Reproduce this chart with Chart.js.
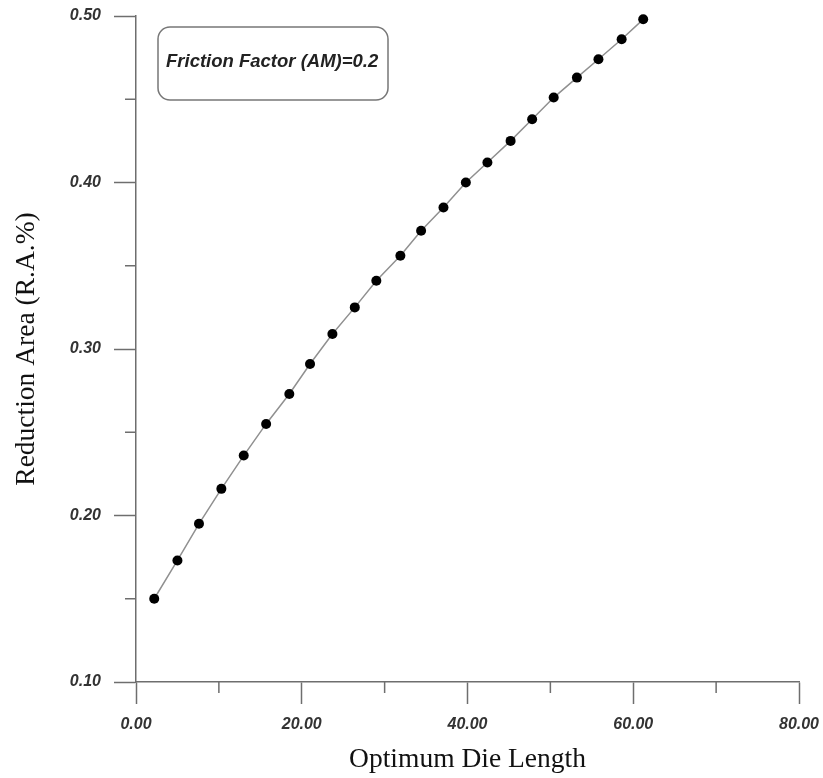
<!DOCTYPE html>
<html>
<head>
<meta charset="utf-8">
<script src="https://cdn.jsdelivr.net/npm/chart.js@4.4.1/dist/chart.umd.min.js"></script>
<style>
  html, body { margin: 0; padding: 0; background: #fff; }
  #wrap { width: 823px; height: 778px; }
</style>
</head>
<body>
<div id="wrap"><canvas id="chart" width="823" height="778"></canvas></div>
<script>
const dieLength = [2.2, 5.0, 7.6, 10.3, 13.0, 15.7, 18.5, 21.0, 23.7, 26.4, 29.0, 31.9, 34.4, 37.1, 39.8, 42.4, 45.2, 47.8, 50.4, 53.2, 55.8, 58.6, 61.2]
const reductionArea = [0.150, 0.173, 0.195, 0.216, 0.236, 0.255, 0.273, 0.291, 0.309, 0.325, 0.341, 0.356, 0.371, 0.385, 0.400, 0.412, 0.425, 0.438, 0.451, 0.463, 0.474, 0.486, 0.498]
const xTicks = [0, 20, 40, 60, 80]
const yTicks = [0.1, 0.2, 0.3, 0.4, 0.5]
const xMinor = [10, 30, 50, 70]
const yMinor = [0.15, 0.25, 0.35, 0.45]
const noteText = "Friction Factor (AM)=0.2"

const axisColor = "#6e6e6e"
const tickFont = { family: "'Liberation Sans', Arial, sans-serif", size: 16, style: "italic", weight: "bold" }
const titleFont = { family: "'Liberation Serif', 'Times New Roman', serif", size: 27.5 }

// short minor ticks + the friction factor note
const extras = {
  id: "extras",
  afterDraw(chart) {
    const { ctx, chartArea, scales: { x, y } } = chart
    ctx.save()
    ctx.strokeStyle = axisColor
    ctx.lineWidth = 1.5
    ctx.beginPath()
    xMinor.forEach((v) => {
      const px = x.getPixelForValue(v)
      ctx.moveTo(px, chartArea.bottom)
      ctx.lineTo(px, chartArea.bottom + 11)
    })
    yMinor.forEach((v) => {
      const py = y.getPixelForValue(v)
      ctx.moveTo(chartArea.left, py)
      ctx.lineTo(chartArea.left - 11, py)
    })
    ctx.stroke()

    const bx = chartArea.left + 22, by = chartArea.top + 11, bw = 230, bh = 73, r = 12
    ctx.beginPath()
    ctx.moveTo(bx + r, by)
    ctx.arcTo(bx + bw, by, bx + bw, by + bh, r)
    ctx.arcTo(bx + bw, by + bh, bx, by + bh, r)
    ctx.arcTo(bx, by + bh, bx, by, r)
    ctx.arcTo(bx, by, bx + bw, by, r)
    ctx.closePath()
    ctx.strokeStyle = "#777"
    ctx.stroke()

    ctx.fillStyle = "#222"
    ctx.font = "italic bold 18.5px 'Liberation Sans', Arial, sans-serif"
    ctx.textBaseline = "middle"
    ctx.fillText(noteText, bx + 8, by + 35)
    ctx.restore()
  }
}

new Chart(document.getElementById("chart"), {
  type: "line",
  data: {
    datasets: [{
      data: dieLength.map((v, i) => ({ x: v, y: reductionArea[i] })),
      borderColor: "#909090",
      borderWidth: 1.5,
      pointRadius: 5,
      pointBackgroundColor: "#000",
      pointBorderWidth: 0,
      tension: 0,
      clip: false
    }]
  },
  options: {
    responsive: false,
    animation: false,
    layout: { padding: { top: 16, right: 24, left: 0, bottom: 0 } },
    plugins: { legend: { display: false }, tooltip: { enabled: false } },
    scales: {
      x: {
        type: "linear",
        min: 0,
        max: 80,
        afterBuildTicks: (s) => { s.ticks = xTicks.map((v) => ({ value: v })) },
        afterFit: (s) => { s.height = 96; s.paddingLeft = 0; s.paddingRight = 0 },
        grid: { drawOnChartArea: false, tickLength: 22, tickColor: axisColor, tickWidth: 1.5 },
        border: { color: axisColor, width: 1.5 },
        ticks: { color: "#333", font: tickFont, padding: 11, maxRotation: 0, callback: (v) => v.toFixed(2) },
        title: { display: true, text: "Optimum Die Length", color: "#111", font: titleFont, padding: { top: 0, bottom: 2 } }
      },
      y: {
        type: "linear",
        min: 0.1,
        max: 0.5,
        afterBuildTicks: (s) => { s.ticks = yTicks.map((v) => ({ value: v })) },
        afterFit: (s) => { s.width = 136; s.paddingTop = 0; s.paddingBottom = 0 },
        grid: { drawOnChartArea: false, tickLength: 22, tickColor: axisColor, tickWidth: 1.5 },
        border: { color: axisColor, width: 1.5 },
        ticks: { color: "#333", font: tickFont, padding: 13, callback: (v) => v.toFixed(2) },
        title: { display: true, text: "Reduction Area (R.A.%)", color: "#111", font: titleFont, padding: { top: 10, bottom: 0 } }
      }
    }
  },
  plugins: [extras]
})
</script>
</body>
</html>
